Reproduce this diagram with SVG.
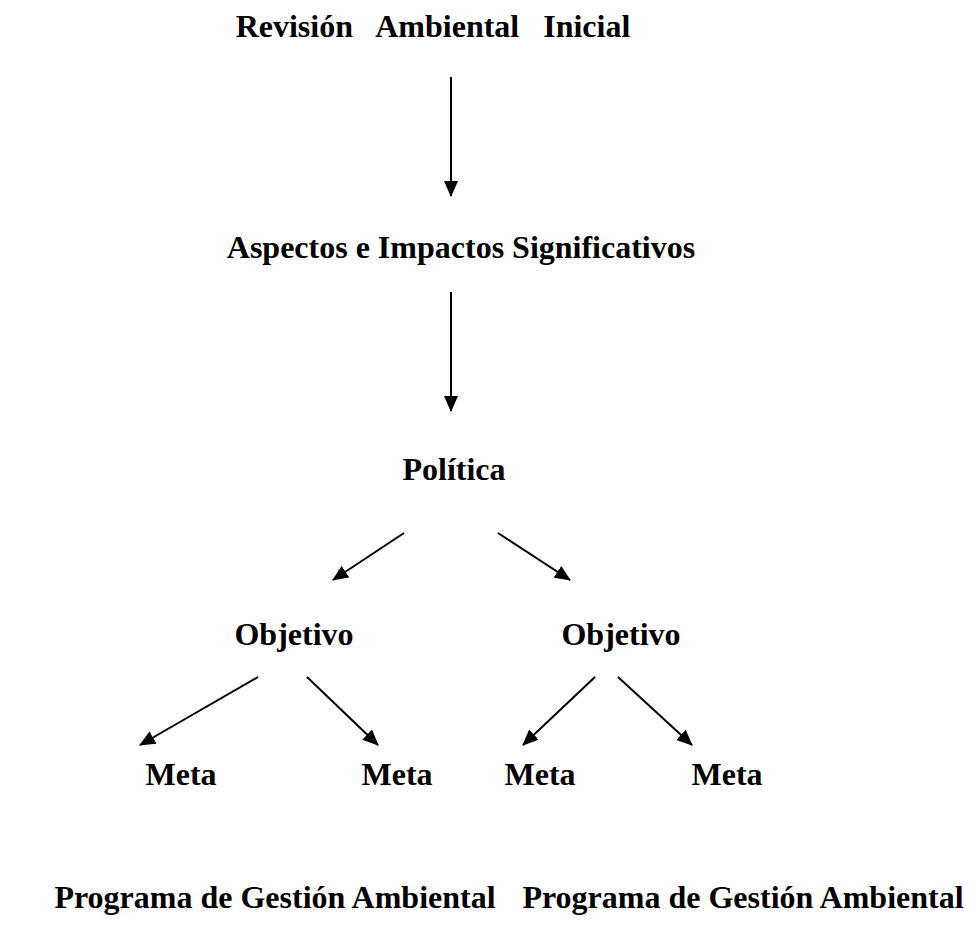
<svg xmlns="http://www.w3.org/2000/svg" width="973" height="926" viewBox="0 0 973 926">
  <style>
    .lbl { font-family: "Liberation Serif", "Times New Roman", serif; font-weight: bold; font-size: 32px; fill: #000; text-anchor: middle; white-space: pre; }
    .edge { stroke: #000; stroke-width: 2; fill: none; marker-end: url(#arrow); }
  </style>
  <defs>
    <marker id="arrow" viewBox="0 0 16 14" refX="15" refY="7" markerWidth="16" markerHeight="14" markerUnits="userSpaceOnUse" orient="auto">
      <path d="M0,0 L16,7 L0,14 Z" fill="#000"/>
    </marker>
  </defs>
  <rect width="973" height="926" fill="#fff"/>

  <g id="connectors">
    <line class="edge" x1="451" y1="77" x2="451" y2="196"/>
    <line class="edge" x1="451" y1="292" x2="451" y2="411"/>
    <line class="edge" x1="404" y1="533" x2="333" y2="580"/>
    <line class="edge" x1="498" y1="533" x2="570" y2="580"/>
    <line class="edge" x1="258" y1="677" x2="140" y2="745"/>
    <line class="edge" x1="307" y1="677" x2="378" y2="745"/>
    <line class="edge" x1="595" y1="677" x2="523" y2="745"/>
    <line class="edge" x1="618" y1="677" x2="692" y2="745"/>
  </g>

  <g id="revision"><text class="lbl" x="433" y="37">Revisión   Ambiental   Inicial</text></g>
  <g id="aspectos"><text class="lbl" x="461" y="258">Aspectos e Impactos Significativos</text></g>
  <g id="politica"><text class="lbl" x="454" y="480">Política</text></g>
  <g id="objetivo1"><text class="lbl" x="294" y="645">Objetivo</text></g>
  <g id="objetivo2"><text class="lbl" x="621" y="645">Objetivo</text></g>
  <g id="meta1"><text class="lbl" x="181" y="785">Meta</text></g>
  <g id="meta2"><text class="lbl" x="397" y="785">Meta</text></g>
  <g id="meta3"><text class="lbl" x="540" y="785">Meta</text></g>
  <g id="meta4"><text class="lbl" x="727" y="785">Meta</text></g>
  <g id="programa1"><text class="lbl" x="275" y="908">Programa de Gestión Ambiental</text></g>
  <g id="programa2"><text class="lbl" x="743" y="908">Programa de Gestión Ambiental</text></g>
</svg>
